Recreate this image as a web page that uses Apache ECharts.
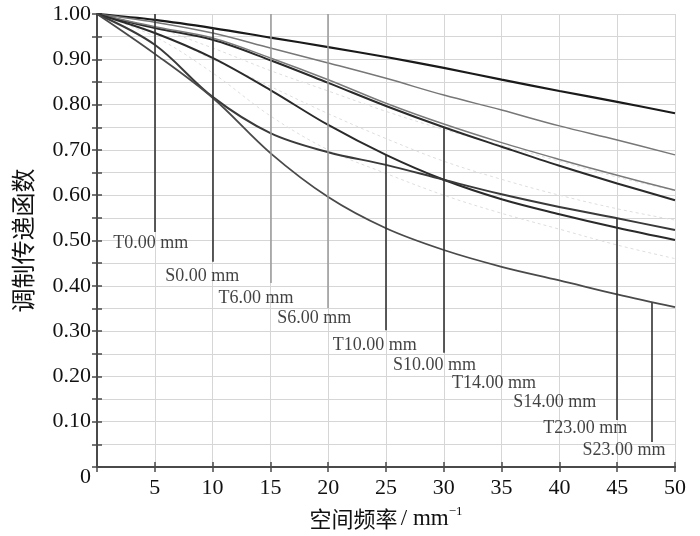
<!DOCTYPE html>
<html>
<head>
<meta charset="utf-8">
<script src="https://cdn.jsdelivr.net/npm/echarts@6/dist/echarts.min.js"></script>
<style>
    html, body {margin: 0; padding: 0; background: #fff;}
    #chart {width: 700px; height: 536px;}
</style>
</head>
<body>
<div id="chart"></div>
<script>
// spatial frequency (mm^-1)
var freq = [0, 5, 10, 15, 20, 25, 30, 35, 40, 45, 50];

// MTF curves
var curveA = [1, 0.987, 0.969, 0.948, 0.927, 0.905, 0.881, 0.855, 0.830, 0.806, 0.781];
var curveB = [1, 0.982, 0.958, 0.925, 0.892, 0.858, 0.821, 0.788, 0.753, 0.722, 0.689];
var curveC = [1, 0.969, 0.943, 0.898, 0.848, 0.797, 0.750, 0.707, 0.665, 0.626, 0.589];
var curveD = [1, 0.972, 0.947, 0.903, 0.855, 0.803, 0.757, 0.716, 0.679, 0.644, 0.611];
var curveE = [1, 0.958, 0.903, 0.832, 0.755, 0.689, 0.634, 0.591, 0.558, 0.528, 0.501];
var curveF = [1, 0.932, 0.817, 0.737, 0.695, 0.667, 0.634, 0.602, 0.574, 0.549, 0.523];
var curveG = [1, 0.912, 0.815, 0.693, 0.596, 0.527, 0.479, 0.442, 0.412, 0.381, 0.353];
// very light curves
var faint1 = [1, 0.970, 0.925, 0.875, 0.830, 0.785, 0.745, 0.710, 0.675, 0.640, 0.610];
var faint2 = [1, 0.960, 0.900, 0.840, 0.780, 0.725, 0.675, 0.635, 0.600, 0.570, 0.545];
var faint3 = [1, 0.950, 0.870, 0.775, 0.700, 0.648, 0.600, 0.560, 0.525, 0.490, 0.460];

// field labels and where they sit (data units)
var tagNames = ['T0.00 mm', 'S0.00 mm', 'T6.00 mm', 'S6.00 mm', 'T10.00 mm',
    'S10.00 mm', 'T14.00 mm', 'S14.00 mm', 'T23.00 mm', 'S23.00 mm'];
var tagX = [1.4, 5.9, 10.5, 15.6, 20.4, 25.6, 30.7, 36.0, 38.6, 42.0];
var tagY = [0.494, 0.422, 0.373, 0.329, 0.269, 0.225, 0.185, 0.143, 0.086, 0.037];

// leader lines: x, top, bottom
var leadX = [5, 10, 15, 20, 25, 30, 45, 48];
var leadTop = [1.0, 0.969, 1.0, 1.0, 0.689, 0.750, 0.549, 0.362];
var leadBottom = [0.519, 0.453, 0.406, 0.351, 0.302, 0.252, 0.104, 0.055];
var leadGray = [false, false, true, true, false, false, false, false];

var serif = 'Liberation Serif';
var cjk = 'Noto Sans CJK SC';

var chart = echarts.init(document.getElementById('chart'));

function pairs(values) {
    return freq.map(function (f, i) { return [f, values[i]]; });
}

function curve(name, values, color, width, dashed) {
    return {
        name: name,
        type: 'line',
        data: pairs(values),
        smooth: 0.35,
        showSymbol: false,
        silent: true,
        lineStyle: {color: color, width: width, type: dashed ? [3, 3] : 'solid'},
        z: dashed ? 2 : 3
    };
}

var leaders = leadX.map(function (x, i) {
    return [
        {coord: [x, leadTop[i]], lineStyle: {color: leadGray[i] ? '#999' : '#333', width: leadGray[i] ? 1.5 : 1.6, type: 'solid'}},
        {coord: [x, leadBottom[i]]}
    ];
});

var tags = tagNames.map(function (n, i) {
    return {value: [tagX[i], tagY[i]], name: n};
});

var yTickFmt = function (v) {
    var k = Math.round(v * 100);
    if (k === 0) return '{z|0}';
    if (k % 10 !== 0) return '';
    return (k / 100).toFixed(2);
};

option = {
    animation: false,
    backgroundColor: '#fff',
    grid: {left: 97, right: 25, top: 14, bottom: 69},
    xAxis: [{
        type: 'value',
        min: 0, max: 50, interval: 5,
        name: '{cn|空间频率} {en|/ mm}{sup|−1}',
        nameLocation: 'middle',
        nameGap: 38,
        nameTextStyle: {
            color: '#111',
            rich: {
                cn: {fontFamily: cjk, fontSize: 22, color: '#111'},
                en: {fontFamily: serif, fontSize: 23, color: '#111'},
                sup: {fontFamily: serif, fontSize: 13, color: '#111', verticalAlign: 'bottom', padding: [0, 0, 14, 0]}
            }
        },
        axisLine: {show: true, lineStyle: {color: '#4a4a4a', width: 2}},
        axisTick: {inside: true, length: 5, lineStyle: {color: '#4a4a4a', width: 1.5}},
        axisLabel: {
            margin: 10,
            fontFamily: serif, fontSize: 22, color: '#111',
            formatter: function (v) { return v === 0 ? '' : v; }
        },
        splitLine: {show: true, lineStyle: {color: '#d6d6d6', width: 1}}
    }, {
        type: 'value',
        position: 'top',
        min: 0, max: 50, interval: 5,
        axisLine: {show: true, lineStyle: {color: '#4a4a4a', width: 2}},
        axisTick: {inside: true, length: 5, lineStyle: {color: '#4a4a4a', width: 1.5}},
        axisLabel: {show: false},
        splitLine: {show: false}
    }],
    yAxis: [{
        type: 'value',
        min: 0, max: 1, interval: 0.05,
        name: '调制传递函数',
        nameLocation: 'middle',
        nameGap: 62,
        nameTextStyle: {fontFamily: cjk, fontSize: 24, color: '#111'},
        axisLine: {show: true, lineStyle: {color: '#4a4a4a', width: 2}},
        axisTick: {inside: true, length: 5, lineStyle: {color: '#4a4a4a', width: 1.5}},
        axisLabel: {
            margin: 6,
            fontFamily: serif, fontSize: 22, color: '#111',
            formatter: yTickFmt,
            rich: {z: {fontFamily: serif, fontSize: 22, color: '#111', padding: [20, 0, 0, 0]}}
        },
        splitLine: {show: true, lineStyle: {color: '#d6d6d6', width: 1}}
    }, {
        type: 'value',
        position: 'right',
        min: 0, max: 1, interval: 0.05,
        axisLine: {show: true, lineStyle: {color: '#4a4a4a', width: 2}},
        axisTick: {inside: true, length: 5, lineStyle: {color: '#4a4a4a', width: 1.5}},
        axisLabel: {show: false},
        splitLine: {show: false}
    }],
    series: [
        curve('faint1', faint1, '#dedede', 1, true),
        curve('faint2', faint2, '#dedede', 1, true),
        curve('faint3', faint3, '#dedede', 1, true),
        curve('A', curveA, '#1a1a1a', 2.2),
        curve('B', curveB, '#777', 1.5),
        curve('C', curveC, '#2a2a2a', 2),
        curve('D', curveD, '#7a7a7a', 1.5),
        curve('E', curveE, '#2a2a2a', 2),
        curve('F', curveF, '#3a3a3a', 2),
        curve('G', curveG, '#4a4a4a', 1.8),
        {
            name: 'tags',
            type: 'scatter',
            data: tags,
            symbolSize: 0,
            silent: true,
            label: {
                show: true,
                position: 'right',
                distance: 0,
                formatter: function (p) { return p.name; },
                fontFamily: serif, fontSize: 18, color: '#111'
            },
            markLine: {
                silent: true,
                symbol: 'none',
                label: {show: false},
                data: leaders
            },
            z: 4
        }
    ]
};

chart.setOption(option);
</script>
</body>
</html>
